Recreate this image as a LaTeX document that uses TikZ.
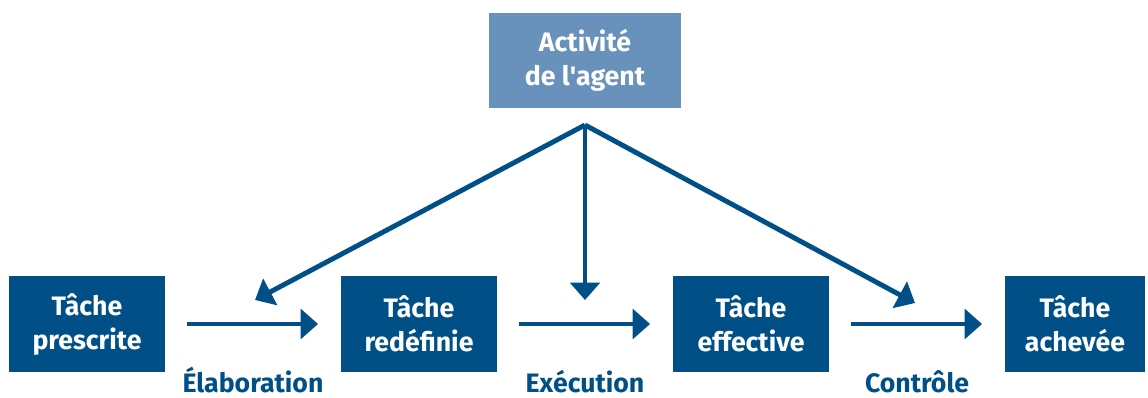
\documentclass[tikz,border=0pt]{standalone}
\usepackage{fontspec}
\setmainfont{Fira Sans}
\usetikzlibrary{arrows.meta}
\definecolor{taskBlue}{RGB}{0, 80, 135}
\definecolor{agentBlue}{RGB}{104, 146, 187}

\begin{document}
\begin{tikzpicture}[x=0.75pt, y=-0.75pt,
    task/.style={fill=taskBlue, text=white, minimum width=117pt, minimum height=72pt,
      align=center, font=\fontsize{20}{25.5}\selectfont\bfseries, inner sep=0pt},
    flow/.style={draw=taskBlue, line width=3.7pt,
      -{Triangle[length=13pt, width=22pt]}},
    phase/.style={text=taskBlue, anchor=base, font=\fontsize{20}{24}\selectfont\bfseries}]
  \useasboundingbox (0,0) rectangle (1148,397);

  % top box
  \node[task, fill=agentBlue, minimum width=144pt, minimum height=71pt] (agent) at (585,60.5) {Activité\\de l\textquotesingle agent};

  % task boxes
  \node[task] (prescrite) at (87,324) {Tâche\\prescrite};
  \node[task] (redefinie) at (419,324) {Tâche\\redéfinie};
  \node[task] (effective) at (751,324) {Tâche\\effective};
  \node[task, minimum width=105pt] (achevee) at (1075,324) {Tâche\\achevée};

  % horizontal arrows
  \draw[flow, shorten <=16pt, shorten >=17pt] (prescrite) -- (redefinie);
  \draw[flow, shorten <=16pt, shorten >=17pt] (redefinie) -- (effective);
  \draw[flow, shorten <=16pt, shorten >=17pt] (effective) -- (achevee);

  % arrows from the agent
  \coordinate (apex) at (585,125);
  \coordinate (tipA) at (255,300);
  \coordinate (tipB) at (585,300);
  \coordinate (tipC) at (915,303);
  \draw[flow] (apex) -- (tipA);
  \draw[flow] (apex) -- (tipB);
  \draw[flow] (apex) -- (tipC);

  % phase labels
  \node[phase] (elab) at (253,392) {Élaboration};
  \node[phase] (exec) at (585,392) {Exécution};
  \node[phase] (ctrl) at (917,392) {Contrôle};
\end{tikzpicture}
\end{document}
